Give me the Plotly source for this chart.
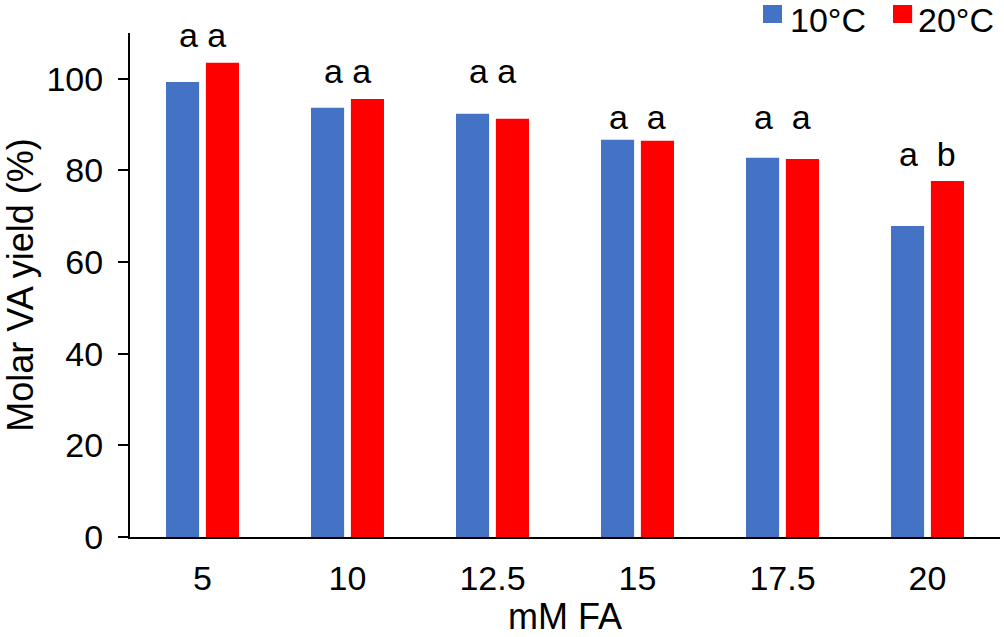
import plotly.graph_objects as go

categories = ["5", "10", "12.5", "15", "17.5", "20"]
yield_10C = [99.3, 93.7, 92.4, 86.7, 82.8, 67.9]
yield_20C = [103.5, 95.6, 91.3, 86.5, 82.5, 77.7]
letters_10C = ["a", "a", "a", "a", "a", "a"]
letters_20C = ["a", "a", "a", "a", "a", "b"]
letter_gaps = [1, 1, 1, 2, 2, 2]  # number of spaces between the two letters
letter_heights = [109.5, 101.6, 101.6, 91.6, 91.6, 83.5]

BLUE = "#4472C4"
RED = "#FF0000"
FONT = "Arial, Liberation Sans, sans-serif"
BARGAP = 0.45
BARGROUPGAP = 0.17
TICK_SIZE = 34
TITLE_SIZE = 36

fig = go.Figure()
fig.add_trace(go.Bar(x=categories, y=yield_10C, name="10°C", marker_color=BLUE, marker_line_width=0))
fig.add_trace(go.Bar(x=categories, y=yield_20C, name="20°C", marker_color=RED, marker_line_width=0))

annotations = []
for i, cat in enumerate(categories):
    label = letters_10C[i] + "\u00a0" * letter_gaps[i] + letters_20C[i]
    # category axis: annotation x given as category index
    annotations.append(dict(x=i, y=letter_heights[i], xref="x", yref="y",
                            text=label, showarrow=False,
                            font=dict(family=FONT, size=34, color="black")))

# manual legend
shapes = [
    dict(type="rect", xref="paper", yref="paper", x0=0.7276, x1=0.7494, y0=1.0198, y1=1.0556,
         fillcolor=BLUE, line_width=0),
    dict(type="rect", xref="paper", yref="paper", x0=0.877, x1=0.899, y0=1.0198, y1=1.0556,
         fillcolor=RED, line_width=0),
]
annotations += [
    dict(x=0.757, y=1.0655, xref="paper", yref="paper", text="10°C", showarrow=False,
         xanchor="left", yanchor="top", borderpad=0,
         font=dict(family=FONT, size=34, color="black")),
    dict(x=0.905, y=1.0655, xref="paper", yref="paper", text="20°C", showarrow=False,
         xanchor="left", yanchor="top", borderpad=0,
         font=dict(family=FONT, size=34, color="black")),
]

fig.update_layout(
    width=1004, height=637,
    margin=dict(l=130, r=4, t=33, b=100, autoexpand=False),
    paper_bgcolor="white", plot_bgcolor="white",
    barmode="group", bargap=BARGAP, bargroupgap=BARGROUPGAP,
    showlegend=False,
    font=dict(family=FONT, size=TICK_SIZE, color="black"),
    shapes=shapes, annotations=annotations,
)
fig.update_xaxes(type="category", showline=True, linecolor="black", linewidth=2,
                 ticks="", showgrid=False, ticklabelstandoff=10, automargin=False,
                 title=dict(text="mM FA", font=dict(size=TITLE_SIZE), standoff=16),
                 tickfont=dict(size=TICK_SIZE))
fig.update_yaxes(range=[0, 110], tickvals=[0, 20, 40, 60, 80, 100], showline=True,
                 linecolor="black", linewidth=2, ticks="outside", ticklen=10, tickwidth=2,
                 tickcolor="black", showgrid=False, zeroline=False, ticklabelstandoff=8,
                 automargin=False,
                 title=dict(text="Molar VA yield (%)", font=dict(size=TITLE_SIZE), standoff=12),
                 tickfont=dict(size=TICK_SIZE))

fig.write_html("out.html", config={"displayModeBar": False},
               post_script="document.body.style.margin='0';")
